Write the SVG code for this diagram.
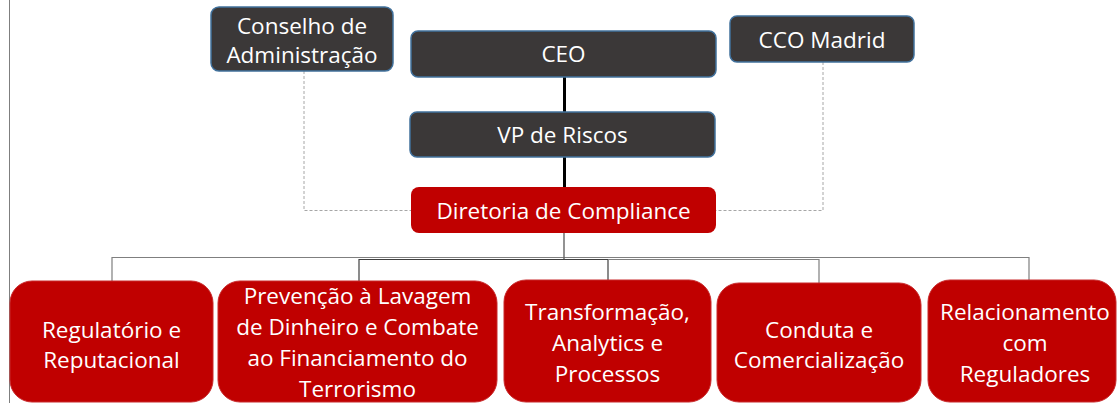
<svg xmlns="http://www.w3.org/2000/svg" width="1117" height="403" viewBox="0 0 1117 403">
<style>
text{font-family:"Open Sans","Noto Sans","DejaVu Sans",sans-serif;font-size:22.5px;fill:#ffffff;text-anchor:middle}
.dark{fill:#3b3838;stroke:#41719c;stroke-width:1.5}
.red{fill:#c00000;stroke:#c8292b;stroke-width:1}
.dash{fill:none;stroke:#a6a6a6;stroke-width:1;stroke-dasharray:3 2}
.thick{fill:none;stroke:#000000;stroke-width:3}
.conn{fill:none;stroke:#7f7f7f;stroke-width:1.2}
.conn2{fill:none;stroke:#404040;stroke-width:1.2}
</style>
<rect x="0" y="0" width="1117" height="403" fill="#ffffff"/>
<line x1="9.5" y1="0" x2="9.5" y2="403" stroke="#7f7f7f" stroke-width="1"/>
<g id="connectors">
<path class="dash" d="M304,71 V210.5 H411"/>
<path class="dash" d="M823,62 V210.5 H716"/>
<path class="thick" d="M564.5,77 V112"/>
<path class="thick" d="M564.5,157 V187"/>
<path class="conn" d="M564,233 V257.5 H112 V281"/>
<path class="conn" d="M564,233 V257.5 H1029 V280"/>
<path class="conn2" d="M564,257.5 V259.5 H359 V281"/>
<path class="conn2" d="M564,259.5 H608 V280"/>
<path class="conn" d="M608,259.5 H819 V283"/>
</g>
<g id="conselho">
<rect class="dark" x="211" y="7" width="182" height="64" rx="8"/>
<text x="302" y="34">Conselho de</text>
<text x="302" y="63">Administração</text>
</g>
<g id="ceo">
<rect class="dark" x="411" y="31" width="305" height="46" rx="7"/>
<text x="563.5" y="62">CEO</text>
</g>
<g id="cco">
<rect class="dark" x="730" y="16" width="184" height="46" rx="7"/>
<text x="822" y="48">CCO Madrid</text>
</g>
<g id="vp">
<rect class="dark" x="410" y="112" width="305" height="45" rx="7"/>
<text x="562.5" y="143">VP de Riscos</text>
</g>
<g id="diretoria">
<rect x="411" y="187" width="305" height="46" rx="8" fill="#c00000"/>
<text x="563.5" y="219">Diretoria de Compliance</text>
</g>
<g id="regulatorio">
<rect class="red" x="10" y="281" width="203" height="121" rx="22"/>
<text x="111.5" y="338">Regulatório e</text>
<text x="111.5" y="368">Reputacional</text>
</g>
<g id="prevencao">
<rect class="red" x="218" y="281" width="279" height="121" rx="22"/>
<text x="357.5" y="304">Prevenção à Lavagem</text>
<text x="357.5" y="335">de Dinheiro e Combate</text>
<text x="357.5" y="366">ao Financiamento do</text>
<text x="357.5" y="397">Terrorismo</text>
</g>
<g id="transformacao">
<rect class="red" x="504" y="280" width="207" height="122" rx="22"/>
<text x="607.5" y="320">Transformação,</text>
<text x="607.5" y="351">Analytics e</text>
<text x="607.5" y="382">Processos</text>
</g>
<g id="conduta">
<rect class="red" x="717" y="283" width="204" height="119" rx="22"/>
<text x="819" y="338">Conduta e</text>
<text x="819" y="368">Comercialização</text>
</g>
<g id="relacionamento">
<rect class="red" x="928" y="280" width="188" height="122" rx="22"/>
<text x="1025" y="320">Relacionamento</text>
<text x="1025" y="351">com</text>
<text x="1025" y="382">Reguladores</text>
</g>
</svg>
